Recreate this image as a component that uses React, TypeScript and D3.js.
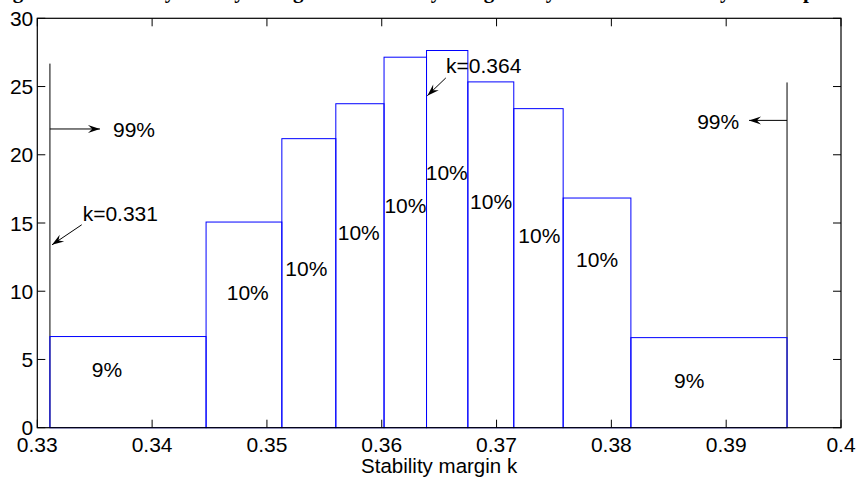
import React from "react";
import * as d3 from "d3";

// Histogram bin edges (stability margin k) and bar heights (density)
const binEdges = [0.3311, 0.3447, 0.3513, 0.356, 0.3602, 0.3639, 0.3675, 0.3715, 0.3758, 0.3817, 0.3953];
const binHeights = [6.68, 15.07, 21.18, 23.74, 27.15, 27.64, 25.34, 23.38, 16.83, 6.6];
const binLabels = ["9%", "10%", "10%", "10%", "10%", "10%", "10%", "10%", "10%", "9%"];
const labelX = [0.33474, 0.3465, 0.3516, 0.35617, 0.36023, 0.36383, 0.36769, 0.3719, 0.37693, 0.38546];
const labelY = [3.7, 9.37, 11.08, 13.77, 15.73, 18.17, 16.02, 13.53, 11.81, 2.89];

const xTicks = [0.33, 0.34, 0.35, 0.36, 0.37, 0.38, 0.39, 0.4];
const xTickLabels = ["0.33", "0.34", "0.35", "0.36", "0.37", "0.38", "0.39", "0.4"];
const yTicks = [0, 5, 10, 15, 20, 25, 30];

// Boundary lines (99% interval)
const boundX = [0.3311, 0.3953];
const boundTop = [26.68, 25.3];

// Arrows: [x1, y1, x2, y2] (tail -> head)
const arrows = [
  [0.3311, 21.89, 0.33546, 21.89],
  [0.3953, 22.52, 0.39199, 22.52],
  [0.33387, 14.87, 0.33128, 13.4],
  [0.36558, 25.63, 0.36397, 24.33],
];
const annoText = ["99%", "99%", "k=0.331", "k=0.364"];
const annoX = [0.33659, 0.39113, 0.33395, 0.3656];
const annoY = [21.27, 21.91, 15.11, 26.0];
const annoAnchor = ["start", "end", "start", "start"];

const xLabel = "Stability margin k";
const title = "Figure 6 Probability density histogram of stability margin k by Monte Carlo analysis with probability";

const W = 857;
const H = 478;
const FONT = "'Liberation Sans', Arial, Helvetica, sans-serif";

export default function App() {
  const x = d3.scaleLinear().domain([0.33, 0.4]).range([37.3, 841]);
  const y = d3.scaleLinear().domain([0, 30]).range([427.7, 18.3]);
  const [x0, x1] = x.range();
  const [yb, yt] = y.range();
  const tickLen = 8;

  const arrowHead = (ax: number, ay: number, bx: number, by: number) => {
    const ang = Math.atan2(by - ay, bx - ax);
    const L = 12;
    const Wd = 4;
    const ux = Math.cos(ang), uy = Math.sin(ang);
    const bx0 = bx - ux * L, by0 = by - uy * L;
    const px = -uy, py = ux;
    const inset = 0.65;
    const mx = bx - ux * L * inset, my = by - uy * L * inset;
    return `M${bx},${by} L${bx0 + px * Wd},${by0 + py * Wd} L${mx},${my} L${bx0 - px * Wd},${by0 - py * Wd} Z`;
  };

  return (
    <svg
      width={W}
      height={H}
      style={{ position: "absolute", left: 0, top: 0, background: "#fff" }}
      fontFamily={FONT}
    >
      <rect x={0} y={0} width={W} height={H} fill="#fff" />
      <text
        x={-6}
        y={-2.5}
        fontFamily="'Liberation Serif', 'Times New Roman', serif"
        fontWeight="bold"
        fontSize={21}
        fill="#000"
      >
        {title}
      </text>

      {/* boundary lines */}
      {boundX.map((bx, i) => (
        <line
          key={"b" + i}
          x1={x(bx)}
          x2={x(bx)}
          y1={y(0)}
          y2={y(boundTop[i])}
          stroke="#000"
          strokeWidth={1}
        />
      ))}

      {/* bars */}
      {binHeights.map((h, i) => (
        <rect
          key={"r" + i}
          x={x(binEdges[i])}
          y={y(h)}
          width={x(binEdges[i + 1]) - x(binEdges[i])}
          height={y(0) - y(h)}
          fill="none"
          stroke="#0000ff"
          strokeWidth={1}
        />
      ))}

      {/* bar labels */}
      {binLabels.map((t, i) => (
        <text key={"l" + i} x={x(labelX[i])} y={y(labelY[i])} fontSize={21} fill="#000">
          {t}
        </text>
      ))}

      {/* arrows */}
      {arrows.map((a, i) => {
        const ax = x(a[0]), ay = y(a[1]), bx = x(a[2]), by = y(a[3]);
        return (
          <g key={"a" + i}>
            <line x1={ax} y1={ay} x2={bx} y2={by} stroke="#000" strokeWidth={1} />
            <path d={arrowHead(ax, ay, bx, by)} fill="#000" />
          </g>
        );
      })}
      {annoText.map((t, i) => (
        <text
          key={"t" + i}
          x={x(annoX[i])}
          y={y(annoY[i])}
          fontSize={21}
          textAnchor={annoAnchor[i] as any}
          fill="#000"
        >
          {t}
        </text>
      ))}

      {/* axes box */}
      <rect x={x0} y={yt} width={x1 - x0} height={yb - yt} fill="none" stroke="#000" strokeWidth={1.2} />

      {/* x ticks */}
      {xTicks.map((t, i) => (
        <g key={"xt" + i}>
          <line x1={x(t)} x2={x(t)} y1={yb} y2={yb - tickLen} stroke="#000" />
          <line x1={x(t)} x2={x(t)} y1={yt} y2={yt + tickLen} stroke="#000" />
          <text x={x(t)} y={yb + 24.5} fontSize={21} textAnchor="middle" fill="#000">
            {xTickLabels[i]}
          </text>
        </g>
      ))}

      {/* y ticks */}
      {yTicks.map((t, i) => (
        <g key={"yt" + i}>
          <line x1={x0} x2={x0 + tickLen} y1={y(t)} y2={y(t)} stroke="#000" />
          <line x1={x1} x2={x1 - tickLen} y1={y(t)} y2={y(t)} stroke="#000" />
          <text x={x0 - 4} y={y(t) + 7.5} fontSize={21} textAnchor="end" fill="#000">
            {t}
          </text>
        </g>
      ))}

      <text x={(x0 + x1) / 2} y={473} fontSize={20.5} textAnchor="middle" fill="#000">
        {xLabel}
      </text>
    </svg>
  );
}
